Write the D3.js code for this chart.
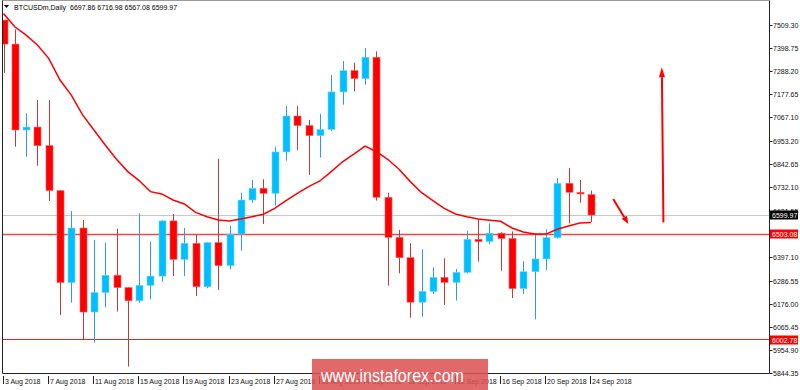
<!DOCTYPE html>
<html>
<head>
<meta charset="utf-8">
<script src="https://cdn.jsdelivr.net/npm/d3@7"></script>
<style>
  html, body { margin: 0; padding: 0; background: #fff; }
  svg { display: block; font-family: "Liberation Sans", Arial, sans-serif; }
</style>
</head>
<body>
<svg id="chart" width="800" height="390"></svg>
<script>
// ---- data ----
const title = "BTCUSDm,Daily  6697.86 6716.98 6567.08 6599.97";
const dates = ["3 Aug","4 Aug","5 Aug","6 Aug","7 Aug","8 Aug","9 Aug","10 Aug","11 Aug","12 Aug",
  "13 Aug","14 Aug","15 Aug","16 Aug","17 Aug","18 Aug","19 Aug","20 Aug","21 Aug","22 Aug",
  "23 Aug","24 Aug","25 Aug","26 Aug","27 Aug","28 Aug","29 Aug","30 Aug","31 Aug","1 Sep",
  "2 Sep","3 Sep","4 Sep","5 Sep","6 Sep","7 Sep","8 Sep","9 Sep","10 Sep","11 Sep",
  "12 Sep","13 Sep","14 Sep","15 Sep","16 Sep","17 Sep","18 Sep","19 Sep","20 Sep","21 Sep",
  "22 Sep","23 Sep","24 Sep"];
const open  = [7533,7418,7007,7021,6932,6717,6277,6538,6136,6229,6312,6253,6190,6264,6308,6572,6388,6465,6257,6468,
  6358,6509,6672,6728,6704,6902,7074,7028,6980,7010,7189,7291,7253,7355,6685,6493,6396,6183,6235,6302,
  6278,6326,6484,6473,6513,6488,6248,6329,6390,6492,6752,6709,6697.86];
const high  = [7533,7488,7087,7150,7150,6720,6619,6576,6481,6468,6535,6255,6608,6473,6575,6605,6538,6505,6470,6870,
  6548,6707,6768,6771,6927,7122,7122,7055,7084,7270,7337,7329,7399,7383,6707,6529,6465,6436,6350,6393,
  6342,6525,6581,6560,6518,6522,6379,6513,6532,6777,6824,6768,6716.98];
const low   = [7280,6927,6879,6836,6667,6122,6181,6005,5990,6159,6138,5875,6181,6197,6281,6308,6308,6213,6250,6242,
  6340,6430,6659,6557,6645,6860,6911,6792,6875,7003,7128,7192,7224,6669,6262,6321,6109,6114,6222,6170,
  6191,6321,6377,6460,6334,6203,6222,6101,6337,6488,6560,6659,6567.08];
const close = [7418,7007,7021,6932,6717,6277,6538,6136,6229,6312,6253,6190,6264,6308,6572,6388,6465,6257,6468,6358,
  6509,6672,6728,6704,6902,7074,7028,6980,7010,7189,7291,7253,7355,6685,6493,6396,6183,6235,6302,6278,
  6326,6484,6473,6513,6488,6248,6329,6390,6492,6752,6709,6701,6599.97];
const ma = [7564,7501,7461,7414,7350,7246,7174,7079,7007,6935,6867,6808,6765,6712,6701,6672,6653,6613,6592,6576,
  6572,6581,6592,6604,6632,6669,6704,6736,6763,6808,6855,6892,6930,6903,6867,6819,6760,6707,6669,6632,
  6605,6592,6581,6575,6570,6538,6519,6509,6509,6532,6548,6562,6564];
const priceTicks = [7509.30,7398.75,7288.20,7177.65,7067.10,6953.20,6842.65,6732.10,6621.55,
  6397.10,6286.55,6176.00,6065.45,5954.90,5844.35];
const tickLabels = ["3 Aug 2018","7 Aug 2018","11 Aug 2018","15 Aug 2018","19 Aug 2018","23 Aug 2018",
  "27 Aug 2018","31 Aug 2018","4 Sep 2018","8 Sep 2018","12 Sep 2018","16 Sep 2018","20 Sep 2018","24 Sep 2018"];
const tickIndex = [0,4,8,12,16,20,24,28,32,36,40,44,48,52];
const currentPrice = 6599.97;
const levels = [6503.08, 6002.78];
// arrows in (bar index, price)
const arrowFrom = [[53.96, 6677], [58.4, 6565]];
const arrowTo   = [[55.3, 6557], [58.26, 7307]];
const watermark = "www.instaforex.com";

// ---- layout ----
const svg = d3.select("#chart");
const L = 2.5, R = 769.5, T = 0.5, B = 373.5;
const x = d3.scaleLinear().domain([0, 52]).range([3.5, 591.1]);
const y = d3.scaleLinear().domain([5844.35, 7509.30]).range([373, 25]);

svg.append("rect").attr("width", 800).attr("height", 390).attr("fill", "#fff");

svg.append("defs").append("clipPath").attr("id", "plot")
  .append("rect").attr("x", L + 0.5).attr("y", T).attr("width", R - L - 1).attr("height", B - T - 0.5);

const plot = svg.append("g").attr("clip-path", "url(#plot)");

// horizontal level lines
plot.append("line").attr("x1", L).attr("x2", R)
  .attr("y1", Math.round(y(currentPrice)) + 0.5).attr("y2", Math.round(y(currentPrice)) + 0.5)
  .attr("stroke", "#c8c8c8").attr("stroke-width", 1);
plot.append("line").attr("x1", L).attr("x2", R)
  .attr("y1", Math.round(y(levels[0])) - 0.5).attr("y2", Math.round(y(levels[0])) - 0.5)
  .attr("stroke", "#f04848").attr("stroke-width", 1.3);
plot.append("line").attr("x1", L).attr("x2", R)
  .attr("y1", Math.round(y(levels[1])) - 0.5).attr("y2", Math.round(y(levels[1])) - 0.5)
  .attr("stroke", "#e02828").attr("stroke-width", 1.1);

// candles
const idx = d3.range(open.length);
const bodyW = 7;
const candle = plot.append("g").selectAll("g").data(idx).join("g");
candle.append("line")
  .attr("x1", i => Math.round(x(i)) + 0.5).attr("x2", i => Math.round(x(i)) + 0.5)
  .attr("y1", i => y(high[i])).attr("y2", i => y(low[i]))
  .attr("stroke", i => close[i] >= open[i] ? "#2f95ff" : "#c23a3a")
  .attr("stroke-width", 1);
candle.append("rect")
  .attr("x", i => Math.round(x(i)) - 3)
  .attr("width", bodyW)
  .attr("y", i => y(Math.max(open[i], close[i])))
  .attr("height", i => Math.max(1.5, Math.abs(y(open[i]) - y(close[i]))))
  .attr("fill", i => close[i] >= open[i] ? "#00bfff" : "#ff0000")
  .attr("stroke", i => close[i] >= open[i] ? "#6fd4ff" : "#ff6060")
  .attr("stroke-width", 0.6);

// moving average
plot.append("path")
  .attr("d", d3.line().x((d, i) => x(i)).y(d => y(d))(ma))
  .attr("fill", "none").attr("stroke", "#ff0000").attr("stroke-width", 1.5);

// arrows
function arrow(p0, p1, headLen, headW) {
  const x0 = x(p0[0]), y0 = y(p0[1]), x1 = x(p1[0]), y1 = y(p1[1]);
  const a = Math.atan2(y1 - y0, x1 - x0);
  const bx = x1 - headLen * Math.cos(a), by = y1 - headLen * Math.sin(a);
  const g = svg.append("g");
  g.append("line").attr("x1", x0).attr("y1", y0).attr("x2", bx).attr("y2", by)
    .attr("stroke", "#ff0000").attr("stroke-width", 2);
  const px = -Math.sin(a) * headW / 2, py = Math.cos(a) * headW / 2;
  g.append("path").attr("d", `M${x1},${y1}L${bx + px},${by + py}L${bx - px},${by - py}Z`)
    .attr("fill", "#ff0000");
}
arrowFrom.forEach((p, k) => arrow(p, arrowTo[k], k === 0 ? 8 : 10, 6));

// frame
svg.append("line").attr("x1", L).attr("x2", R).attr("y1", T).attr("y2", T).attr("stroke", "#9a9a9a");
svg.append("line").attr("x1", L).attr("x2", L).attr("y1", T).attr("y2", B).attr("stroke", "#222");
svg.append("line").attr("x1", R).attr("x2", R).attr("y1", T).attr("y2", B).attr("stroke", "#222");
svg.append("line").attr("x1", L).attr("x2", R).attr("y1", B).attr("y2", B).attr("stroke", "#222");

// right price axis
const ay = svg.append("g");
priceTicks.forEach(v => {
  const yy = Math.round(y(v)) + 0.5;
  ay.append("line").attr("x1", R).attr("x2", R + 3).attr("y1", yy).attr("y2", yy).attr("stroke", "#222");
  ay.append("text").attr("x", 773).attr("y", yy + 2.5).attr("font-size", 7).attr("fill", "#111").text(v.toFixed(2));
});
function priceBox(v, bg, dy) {
  const yy = Math.round(y(v)) + dy;
  ay.append("rect").attr("x", R + 0.5).attr("y", yy - 4.5).attr("width", 28).attr("height", 9).attr("fill", bg);
  ay.append("text").attr("x", 772).attr("y", yy + 2.5).attr("font-size", 7).attr("fill", "#fff").text(v.toFixed(2));
}
priceBox(currentPrice, "#000", 0);
priceBox(levels[0], "#ff0000", -1);
priceBox(levels[1], "#ff0000", 0);

// bottom date axis
const ax = svg.append("g");
tickIndex.forEach((i, k) => {
  const xx = Math.round(x(i)) - 0.5;
  ax.append("line").attr("x1", xx).attr("x2", xx).attr("y1", 376).attr("y2", 384).attr("stroke", "#222");
  ax.append("text").attr("x", xx + 1.5).attr("y", 384).attr("font-size", 7).attr("fill", "#111").text(tickLabels[k]);
});

// title
svg.append("path").attr("d", "M4,5L9,5L6.5,8Z").attr("fill", "#000");
svg.append("text").attr("x", 14).attr("y", 9.5).attr("font-size", 7).attr("fill", "#000")
  .attr("xml:space", "preserve").style("white-space", "pre").text(title);

// watermark (overlays the date labels as in the reference)
svg.append("rect").attr("x", 312).attr("y", 359).attr("width", 176).attr("height", 31)
  .attr("fill", "rgb(220,80,80)").attr("opacity", 0.86);
svg.append("text").attr("x", 321).attr("y", 382).attr("font-size", 19).attr("fill", "#fff")
  .attr("textLength", 143).attr("lengthAdjust", "spacingAndGlyphs").text(watermark);
</script>
</body>
</html>
